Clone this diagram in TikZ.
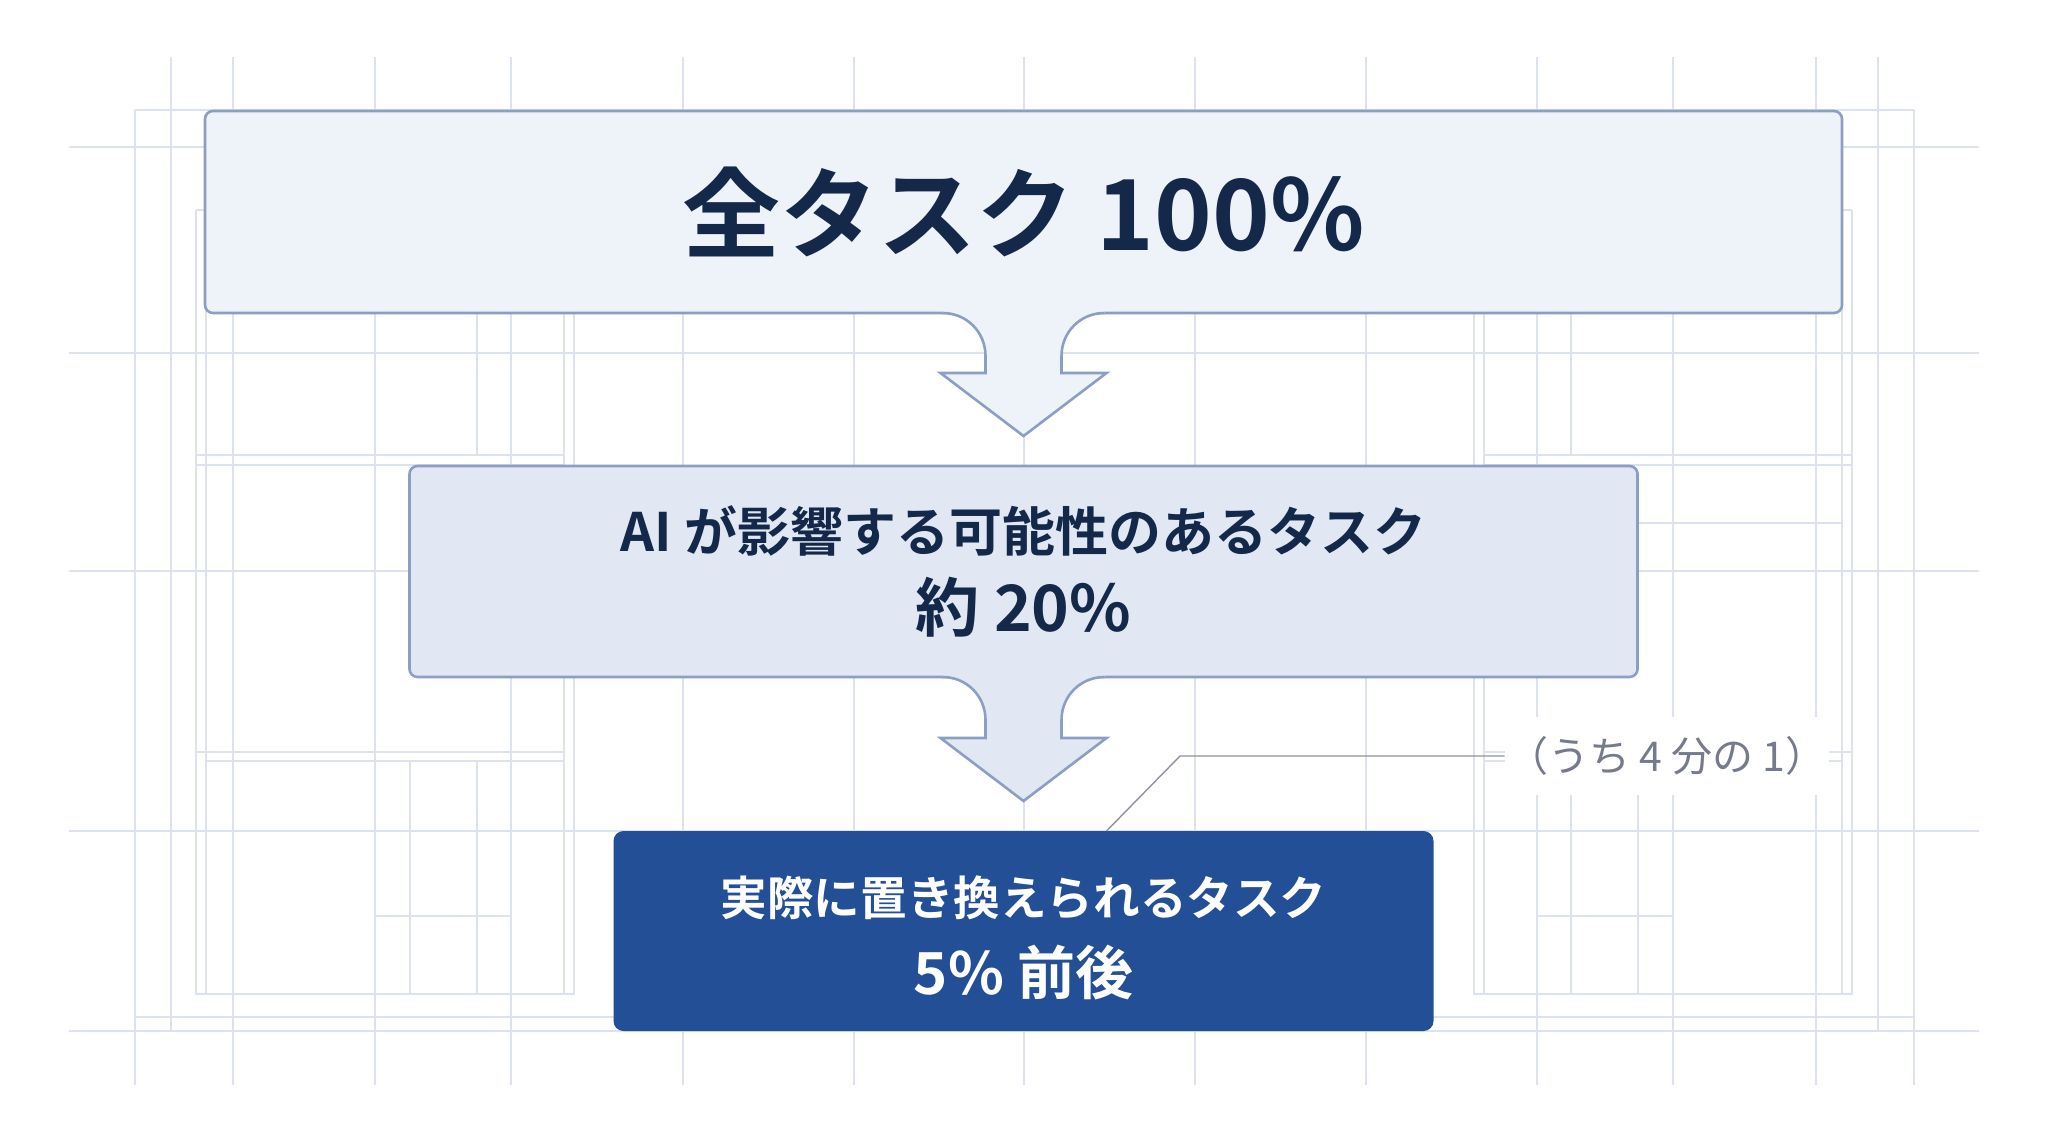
\documentclass[tikz,border=0pt]{standalone}
\usepackage{fontspec}
\usetikzlibrary{positioning, calc}
\newfontfamily\jpfont{Noto Sans CJK JP}[BoldFont={Noto Sans CJK JP Bold}]
\definecolor{gridblue}{HTML}{DCE3EE}
\definecolor{edgeblue}{HTML}{8C9FC2}
\definecolor{paleblue}{HTML}{EEF2F9}
\definecolor{softblue}{HTML}{E1E8F4}
\definecolor{deepblue}{HTML}{234F97}
\definecolor{inkblue}{HTML}{14284A}
\definecolor{notegray}{HTML}{767B8C}
\definecolor{leadgray}{HTML}{8E929E}
% block arrow hanging from the bottom edge of #1 down towards #2
\newcommand{\tierarrow}[3]{%
  \coordinate (top) at (#1.south);
  \coordinate (tip) at ($(#2.north)+(0,-30)$);
  \fill[#3] ($(top)+(-81,-3)$) -- ($(top)+(-81,0)$)
    .. controls ($(top)+(-57,0)$) and ($(top)+(-38,19)$) .. ($(top)+(-38,43)$)
    -- ($(tip)+(-38,-63)$) -- ($(tip)+(-83,-63)$) -- (tip)
    -- ($(tip)+(83,-63)$) -- ($(tip)+(38,-63)$) -- ($(top)+(38,43)$)
    .. controls ($(top)+(38,19)$) and ($(top)+(57,0)$) .. ($(top)+(81,0)$)
    -- ($(top)+(81,-3)$) -- cycle;
  \draw[tieredge] ($(top)+(-81,0)$)
    .. controls ($(top)+(-57,0)$) and ($(top)+(-38,19)$) .. ($(top)+(-38,43)$)
    -- ($(tip)+(-38,-63)$) -- ($(tip)+(-83,-63)$) -- (tip)
    -- ($(tip)+(83,-63)$) -- ($(tip)+(38,-63)$) -- ($(top)+(38,43)$)
    .. controls ($(top)+(38,19)$) and ($(top)+(57,0)$) .. ($(top)+(81,0)$);
}

\begin{document}
\begin{tikzpicture}[
  x=0.5pt, y=-0.5pt,
  tier/.style={draw=edgeblue, line width=1.3pt, rounded corners=4pt,
               inner sep=0pt, outer sep=0pt, align=center, text=inkblue},
  keytier/.style={fill=deepblue, rounded corners=5pt, inner sep=0pt,
                  outer sep=0pt, align=center, text=white},
  gridline/.style={draw=gridblue, line width=0.6pt},
  tieredge/.style={draw=edgeblue, line width=1.3pt, line join=miter},
  leader/.style={draw=leadgray, line width=0.7pt},
  note/.style={fill=white, text=notegray, inner sep=0pt,
               minimum width=162pt, minimum height=39pt,
               font=\jpfont\fontsize{20.5}{24}\selectfont}
]
\fill[white] (0,0) rectangle (2048,1143);
\useasboundingbox (0,0) rectangle (2048,1143);

% background grid
\begin{scope}[gridline]
  \foreach \gx in {233,375,511,683,854,1024,1195,1366,1537,1673,1816}
    \draw (\gx,57) -- (\gx,1085);
  \foreach \gx in {171,1878}
    \draw (\gx,57) -- (\gx,1031);
  \foreach \gx in {135,1914}
    \draw (\gx,110) -- (\gx,1085);
  \foreach \gy in {147,353,571,831,1031}
    \draw (69,\gy) -- (1979,\gy);
  \draw (135,110) -- (1914,110) (135,1017) -- (1914,1017);
  % side frames, left one and its mirror
  \foreach \flip/\off in {1/0,-1/2048}{
    \begin{scope}[shift={(\off,0)}, xscale=\flip]
      \draw (196,210) -- (206,210);
      \draw (196,210) -- (196,994) -- (574,994) -- (574,313);
      \draw (206,210) -- (206,994);
      \draw (564,313) -- (564,994);
      \draw (196,455) -- (564,455) (196,465) -- (564,465);
      \draw (196,752) -- (564,752) (206,761) -- (564,761);
      \draw (477,313) -- (477,455);
      \draw (410,761) -- (410,994) (477,761) -- (477,994);
      \draw (375,916) -- (511,916);
    \end{scope}}
  \draw (1638,523) -- (1842,523);
\end{scope}

% the three tiers
\node[tier, fill=paleblue, minimum width=818.5pt, minimum height=101pt,
      font=\jpfont\bfseries\fontsize{49}{58}\selectfont]
  (all) at (1023.5,212) {全タスク 100\%};
\node[tier, fill=softblue, minimum width=614pt, minimum height=105.5pt,
      below=76.5pt of all, font=\jpfont\bfseries\fontsize{26.5}{40}\selectfont]
  (exposed) {AI が影響する可能性のあるタスク\\{\fontsize{32}{40}\selectfont 約 20\%}};
\node[keytier, minimum width=410pt, minimum height=100pt,
      below=77pt of exposed, font=\jpfont\bfseries\fontsize{23.3}{39.5}\selectfont]
  (final) {\rule{0pt}{27pt}実際に置き換えられるタスク\\{\fontsize{29}{39.5}\selectfont 5\% 前後}};

\tierarrow{all}{exposed}{paleblue}
\tierarrow{exposed}{final}{softblue}

% side note
\node[note] (note) at (1667,756) {（うち 4 分の 1）};
\coordinate (kink) at (1180,756);
\coordinate (foot) at ($(final.north)+(83,0)$);
\draw[leader] (note.west) -- (kink) -- (foot);
\end{tikzpicture}
\end{document}
